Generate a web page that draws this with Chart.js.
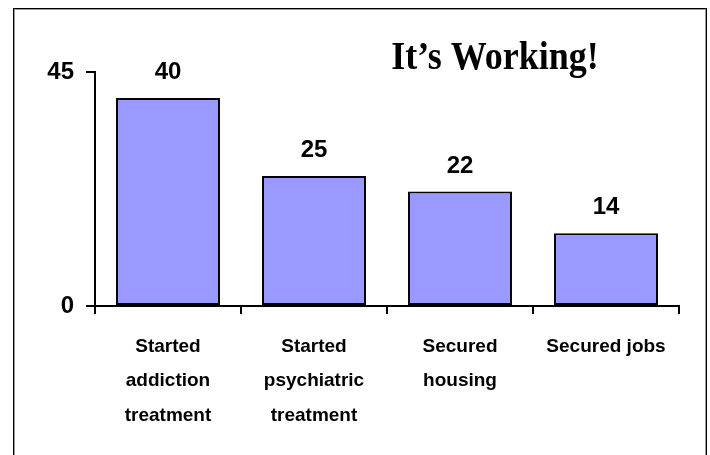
<!DOCTYPE html>
<html>
<head>
<meta charset="utf-8">
<script src="https://cdn.jsdelivr.net/npm/chart.js@4.4.0/dist/chart.umd.min.js"></script>
<style>
  html, body { margin: 0; padding: 0; background: #fff; overflow: hidden; }
  #wrap { position: relative; width: 710px; height: 455px; }
  #frame {
    position: absolute; left: 13px; top: 8px; width: 692px; height: 500px;
    border: 1px solid #000; box-shadow: inset 1px 1px 0 #9a9a9a, inset -1px 0 0 #9a9a9a;
    pointer-events: none;
  }
</style>
</head>
<body>
<div id="wrap">
  <canvas id="chart" width="710" height="455"></canvas>
  <div id="frame"></div>
</div>
<script>
const categories = [
  ["Started", "addiction", "treatment"],
  ["Started", "psychiatric", "treatment"],
  ["Secured", "housing"],
  ["Secured jobs"]
];
const counts = [40, 25, 22, 14];
const yTicks = [0, 45];
const chartTitle = "It\u2019s Working!";

const sans = "'Liberation Sans', Arial, sans-serif";

// value labels above the bars
const valueLabels = {
  id: "valueLabels",
  afterDatasetsDraw(chart) {
    const ctx = chart.ctx;
    const meta = chart.getDatasetMeta(0);
    ctx.save();
    ctx.font = "bold 24px " + sans;
    ctx.fillStyle = "#000";
    ctx.textAlign = "center";
    ctx.textBaseline = "alphabetic";
    meta.data.forEach((bar, i) => {
      ctx.fillText(String(counts[i]), bar.x, bar.y - 19);
    });
    ctx.restore();
  }
};

// serif heading in the top right (a bit taller than wide, like the original)
const heading = {
  id: "heading",
  afterDraw(chart) {
    const ctx = chart.ctx;
    ctx.save();
    ctx.translate(495, 69);
    ctx.scale(1, 1.1);
    ctx.font = "bold 36px 'Liberation Serif', 'Times New Roman', serif";
    ctx.fillStyle = "#000";
    ctx.textAlign = "center";
    ctx.textBaseline = "alphabetic";
    ctx.fillText(chartTitle, 0, 0);
    ctx.restore();
  }
};

new Chart(document.getElementById("chart").getContext("2d"), {
  type: "bar",
  data: {
    labels: categories,
    datasets: [{
      data: counts,
      backgroundColor: "#9999ff",
      borderColor: "#000",
      borderWidth: 2,
      borderSkipped: false,
      barPercentage: 0.712,
      categoryPercentage: 1
    }]
  },
  options: {
    responsive: false,
    animation: false,
    layout: { padding: { top: 72, right: 31, left: 0, bottom: 0 } },
    plugins: { legend: { display: false }, tooltip: { enabled: false }, title: { display: false } },
    scales: {
      x: {
        afterFit: (scale) => { scale.height = 149; },
        grid: {
          display: true, drawOnChartArea: false, drawTicks: true, offset: true,
          tickLength: 8, color: "#000", tickColor: "#000", lineWidth: 2, tickWidth: 2
        },
        border: { display: true, color: "#000", width: 2 },
        ticks: {
          color: "#000",
          padding: 15,
          maxRotation: 0,
          autoSkip: false,
          font: { family: sans, size: 19, weight: "bold", lineHeight: 1.82 }
        }
      },
      y: {
        min: 0,
        max: 45,
        afterFit: (scale) => { scale.width = 95; },
        afterBuildTicks: (scale) => { scale.ticks = yTicks.map(v => ({ value: v })); },
        grid: {
          display: true, drawOnChartArea: false, drawTicks: true,
          tickLength: 9, color: "#000", tickColor: "#000", lineWidth: 2, tickWidth: 2
        },
        border: { display: true, color: "#000", width: 2 },
        ticks: {
          color: "#000",
          padding: 12,
          font: { family: sans, size: 24, weight: "bold" }
        }
      }
    }
  },
  plugins: [valueLabels, heading]
});
</script>
</body>
</html>
